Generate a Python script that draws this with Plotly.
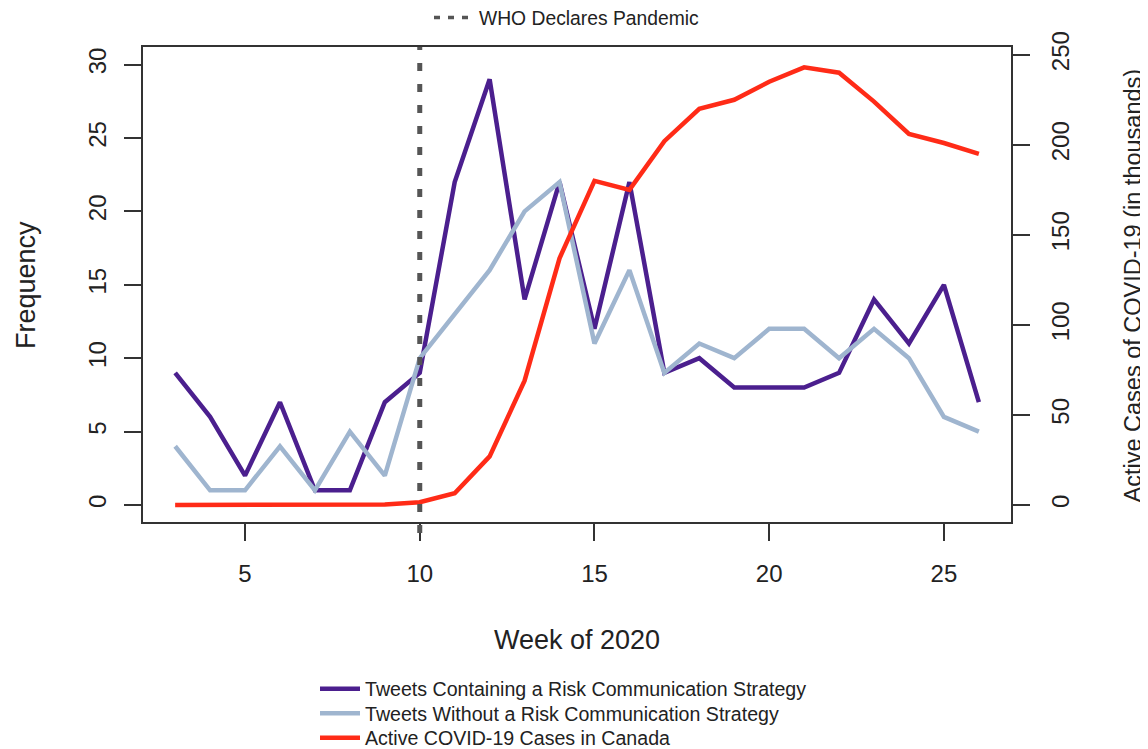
import plotly.graph_objects as go

# ---- data ----
weeks = list(range(3, 27))
risk_tweets = [9, 6, 2, 7, 1, 1, 7, 9, 22, 29, 14, 22, 12, 22, 9, 10, 8, 8, 8, 9, 14, 11, 15, 7]
nonrisk_tweets = [4, 1, 1, 4, 1, 5, 2, 10, 13, 16, 20, 22, 11, 16, 9, 11, 10, 12, 12, 10, 12, 10, 6, 5]
active_cases_k = [0, 0, 0, 0, 0, 0.1, 0.3, 1.5, 6.5, 27, 69, 137, 180, 175, 202, 220, 225, 235, 243, 240, 224, 206, 201, 195]
who_week = 10

x_ticks = [5, 10, 15, 20, 25]
left_ticks = [0, 5, 10, 15, 20, 25, 30]
right_ticks = [0, 50, 100, 150, 200, 250]

names = ["Tweets Containing a Risk Communication Strategy",
         "Tweets Without a Risk Communication Strategy",
         "Active COVID-19 Cases in Canada"]
who_label = "WHO Declares Pandemic"

# ---- styles ----
FONT = "Liberation Sans, Arial, Helvetica, sans-serif"
PURPLE = "#4b1f8e"
LIGHTBLUE = "#9fb5cf"
RED = "#ff2b17"
GREY = "#555555"
AXC = "#333333"
TXT = "#222222"

fig = go.Figure()
fig.add_trace(go.Scatter(x=weeks, y=risk_tweets, mode="lines", name=names[0],
                         line=dict(color=PURPLE, width=4.5), legend="legend"))
fig.add_trace(go.Scatter(x=weeks, y=nonrisk_tweets, mode="lines", name=names[1],
                         line=dict(color=LIGHTBLUE, width=4.5), legend="legend3"))
fig.add_trace(go.Scatter(x=weeks, y=active_cases_k, mode="lines", name=names[2],
                         line=dict(color=RED, width=4.5), yaxis="y2", legend="legend4"))
# legend-only entry for the WHO line
fig.add_trace(go.Scatter(x=[None], y=[None], mode="lines", name=who_label,
                         line=dict(color=GREY, width=3.5, dash="6px,8px"), legend="legend2"))

fig.add_shape(type="line", xref="x", yref="paper", x0=who_week, x1=who_week, y0=-0.023, y1=1,
              line=dict(color=GREY, width=5, dash="8px,13px"), layer="above")

axis_common = dict(showgrid=False, zeroline=False, showline=True, linecolor=AXC, linewidth=1.5,
                   ticks="outside", ticklen=17, tickwidth=1.5, tickcolor=AXC, automargin=False,
                   tickfont=dict(family=FONT, size=24, color=TXT))

def leg(x, y, size, iw=30):
    return dict(x=x, xanchor="left", y=y, yanchor="middle", orientation="v",
                font=dict(family=FONT, size=size, color=TXT), bgcolor="rgba(0,0,0,0)",
                itemwidth=iw)

# page has an 8px body margin: figure is 1140x741 placed at (8,8).
# plot area in page px: x 143..1011, y 47..522
def px_x(p):
    return (p - 143) / 868.0

def px_y(p):
    return (522 - p) / 475.0

fig.update_layout(
    width=1140, height=741,
    margin=dict(l=135, r=137, t=39, b=227, autoexpand=False),
    paper_bgcolor="white", plot_bgcolor="white",
    font=dict(family=FONT, color=TXT),
    xaxis=dict(range=[2.08, 26.92], tickmode="array", tickvals=x_ticks, mirror=True,
               ticklabelstandoff=12, **axis_common),
    yaxis=dict(range=[-1.16, 31.2], tickmode="array", tickvals=left_ticks, tickangle=-90,
               ticklabelstandoff=9, **axis_common),
    yaxis2=dict(range=[-9.44, 254.3], tickmode="array", tickvals=right_ticks, tickangle=-90,
                overlaying="y", side="right", ticklabelstandoff=10, **axis_common),
    legend=leg(px_x(315), px_y(689), 19.6, 40),
    legend3=leg(px_x(315), px_y(713.5), 19.6, 40),
    legend4=leg(px_x(315), px_y(738), 19.6, 40),
    legend2=leg(px_x(429), px_y(18), 19.3, 40),
    showlegend=True,
    annotations=[
        dict(text="Week of 2020", xref="paper", yref="paper", x=0.5, y=px_y(640),
             xanchor="center", yanchor="middle", showarrow=False,
             font=dict(family=FONT, size=27, color=TXT)),
        dict(text="Frequency", xref="paper", yref="paper", x=px_x(26), y=px_y(285),
             xanchor="center", yanchor="middle", showarrow=False, textangle=-90,
             font=dict(family=FONT, size=27, color=TXT)),
        dict(text="Active Cases of COVID-19 (in thousands)", xref="paper", yref="paper",
             x=px_x(1132), y=px_y(285.5), xanchor="center", yanchor="middle", showarrow=False,
             textangle=-90, font=dict(family=FONT, size=23.5, color=TXT)),
    ],
)

fig.write_html("out.html")
